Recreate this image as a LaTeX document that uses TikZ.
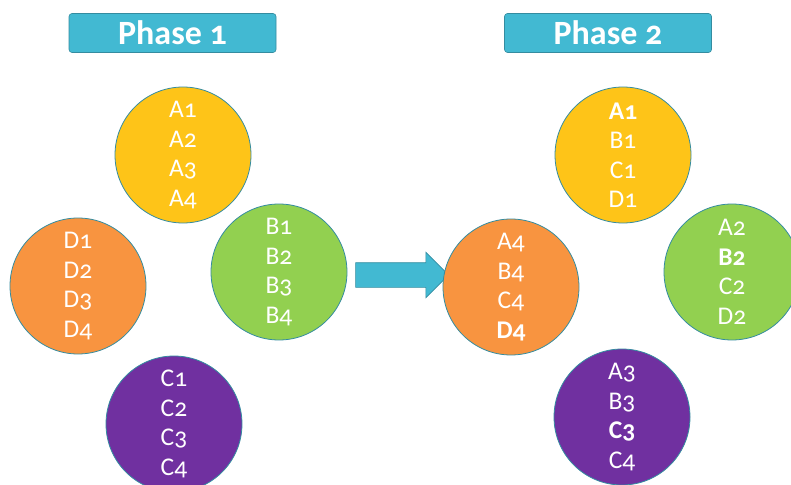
\documentclass[tikz,border=0pt]{standalone}
\usepackage{fontspec}
\setmainfont{Carlito}[Numbers=OldStyle]
\usetikzlibrary{shapes.arrows}
\definecolor{bannerblue}{RGB}{66,185,210}
\definecolor{rimteal}{RGB}{52,140,160}
\definecolor{ballyellow}{RGB}{254,196,24}
\definecolor{ballorange}{RGB}{248,148,64}
\definecolor{ballgreen}{RGB}{146,208,80}
\definecolor{ballpurple}{RGB}{112,48,160}

\begin{document}
\begin{tikzpicture}[x=1pt,y=-1pt,
    ball/.style={draw=rimteal, line width=.8pt, circle, minimum size=136pt, inner sep=0pt,
      text=white, align=center, font=\fontsize{25.5}{29.5}\selectfont},
    banner/.style={draw=rimteal, line width=.6pt, fill=bannerblue, rounded corners=3pt,
      minimum width=207pt, minimum height=39pt, inner sep=0pt,
      text=white, font=\fontsize{34}{34}\selectfont\bfseries}]
  \useasboundingbox (0,0) rectangle (791,484);

  % phase 1
  \node (ph1) at (172.5,33) [banner] {Phase 1};
  \node (a1) at (183,155) [ball, fill=ballyellow] {A1\\A2\\A3\\A4};
  \node (d1) at (78,286)  [ball, fill=ballorange] {D1\\D2\\D3\\D4};
  \node (b1) at (279,272) [ball, fill=ballgreen]  {B1\\B2\\B3\\B4};
  \node (c1) at (174,424) [ball, fill=ballpurple] {C1\\C2\\C3\\C4};

  % shift
  \node (go) at (396,275) [single arrow, draw=rimteal, line width=.6pt, fill=bannerblue,
    minimum height=93pt, text height=24pt, text depth=0pt, inner sep=0pt,
    single arrow head extend=10.5pt] {};

  % phase 2
  \node (ph2) at (608,33) [banner] {Phase 2};
  \node (a2) at (623,155) [ball, fill=ballyellow] {\textbf{A1}\\B1\\C1\\D1};
  \node (d2) at (511,287) [ball, fill=ballorange] {A4\\B4\\C4\\\textbf{D4}};
  \node (b2) at (732,272) [ball, fill=ballgreen]  {A2\\\textbf{B2}\\C2\\D2};
  \node (c2) at (622,417) [ball, fill=ballpurple] {A3\\B3\\\textbf{C3}\\C4};
\end{tikzpicture}
\end{document}
